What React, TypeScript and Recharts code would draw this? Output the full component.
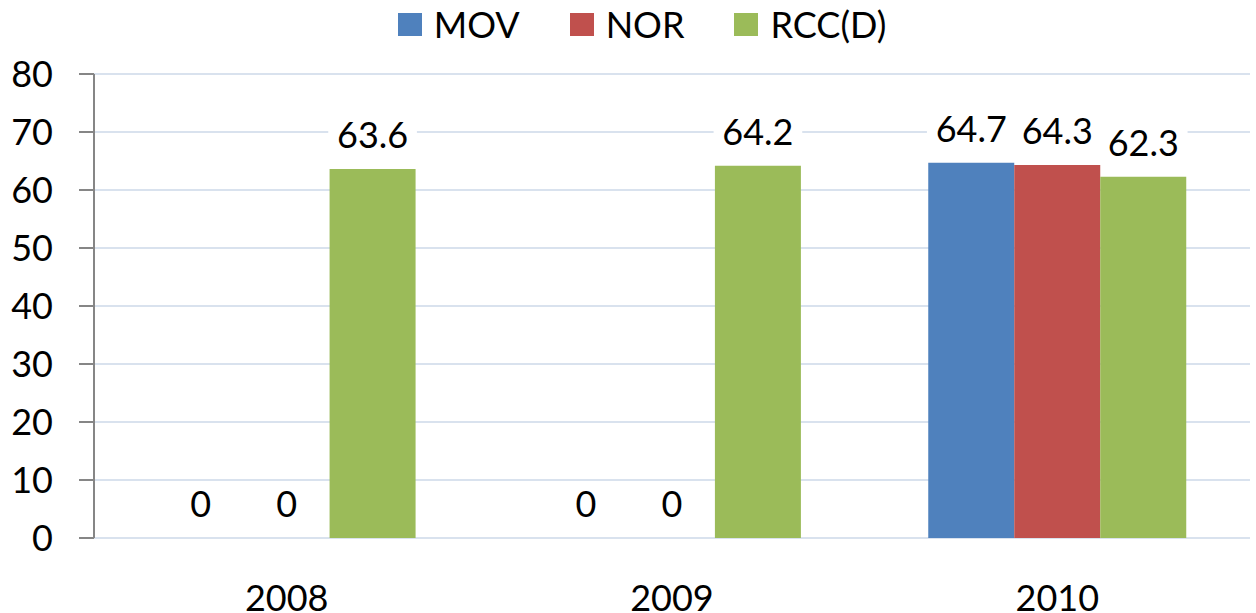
import React from 'react';
import {
  BarChart,
  Bar,
  XAxis,
  YAxis,
  CartesianGrid,
  Legend,
  LabelList,
} from 'recharts';

// data
const years = ['2008', '2009', '2010'];
const movValues = [0, 0, 64.7];
const norValues = [0, 0, 64.3];
const rccValues = [63.6, 64.2, 62.3];
const yTicks = [0, 10, 20, 30, 40, 50, 60, 70, 80];
const boundaryTicks = [0, 1, 2, 3];

const series = [
  { key: 'MOV', name: 'MOV', color: '#4F81BD' },
  { key: 'NOR', name: 'NOR', color: '#C0504D' },
  { key: 'RCC', name: 'RCC(D)', color: '#9BBB59' },
];

const data = years.map((year, i) => ({
  year,
  MOV: movValues[i],
  NOR: norValues[i],
  RCC: rccValues[i],
}));

const FONT = 'Lato, "Open Sans", sans-serif';
const FONT_SIZE = 36;
const AXIS_GREY = '#868686';

const ValueLabel = (props: any) => {
  const { x, y, width, height, value } = props;
  const cx = Number(x) + Number(width) / 2;
  // bar top (height may be a tiny positive value for zero bars)
  const top = Math.min(Number(y), Number(y) + Number(height));
  const base = top - 21;
  const text = String(value);
  const w = text.length * FONT_SIZE * 0.56 + 8;
  return (
    <g>
      <rect x={cx - w / 2} y={base - 30} width={w} height={36} fill="#fff" />
      <text
        x={cx}
        y={base}
        textAnchor="middle"
        fontFamily={FONT}
        fontSize={FONT_SIZE}
        fill="#000"
      >
        {text}
      </text>
    </g>
  );
};

const YearTick = (props: any) => {
  const { x, y, payload } = props;
  return (
    <text
      x={x}
      y={Number(y) + 65}
      textAnchor="middle"
      fontFamily={FONT}
      fontSize={FONT_SIZE}
      fill="#000"
    >
      {payload.value}
    </text>
  );
};

const LegendContent = () => (
  <div
    style={{
      height: 74,
      display: 'flex',
      justifyContent: 'center',
      alignItems: 'flex-start',
      fontFamily: FONT,
      fontSize: FONT_SIZE,
      color: '#000',
      paddingLeft: 34,
    }}
  >
    {series.map((s) => (
      <div
        key={s.key}
        style={{ display: 'flex', alignItems: 'center', height: 48, margin: '0 25px' }}
      >
        <span
          style={{ width: 24, height: 23, background: s.color, marginRight: 12, display: 'inline-block' }}
        />
        <span>{s.name}</span>
      </div>
    ))}
  </div>
);

export default function App() {
  return (
    <div style={{ position: 'absolute', left: 0, top: 0, background: '#fff' }}>
      <BarChart
        width={1256}
        height={613}
        data={data}
        margin={{ top: 0, right: 6, bottom: 0, left: 0 }}
        barCategoryGap="16.5%"
        barGap={0}
      >
        <CartesianGrid vertical={false} stroke="#D9E2EE" strokeWidth={2} />
        <XAxis
          xAxisId="edges"
          type="number"
          domain={[0, 3]}
          ticks={boundaryTicks}
          allowDataOverflow
          height={0}
          tickFormatter={() => ''}
          stroke={AXIS_GREY}
          axisLine={{ stroke: AXIS_GREY, strokeWidth: 2 }}
          tickLine={{ stroke: AXIS_GREY, strokeWidth: 2 }}
          tickSize={14}
        />
        <XAxis
          dataKey="year"
          height={75}
          axisLine={false}
          tickLine={false}
          tick={<YearTick />}
          interval={0}
        />
        <YAxis
          width={94}
          domain={[0, 80]}
          ticks={yTicks}
          interval={0}
          axisLine={{ stroke: AXIS_GREY, strokeWidth: 2 }}
          tickLine={{ stroke: AXIS_GREY, strokeWidth: 2 }}
          tickSize={15}
          tickMargin={26}
          tick={{ fontFamily: FONT, fontSize: FONT_SIZE, fill: '#000' }}
        />
        <Legend verticalAlign="top" content={<LegendContent />} />
        {series.map((s) => (
          <Bar
            key={s.key}
            dataKey={s.key}
            name={s.name}
            fill={s.color}
            minPointSize={0.01}
            isAnimationActive={false}
          >
            <LabelList dataKey={s.key} content={<ValueLabel />} />
          </Bar>
        ))}
      </BarChart>
    </div>
  );
}
